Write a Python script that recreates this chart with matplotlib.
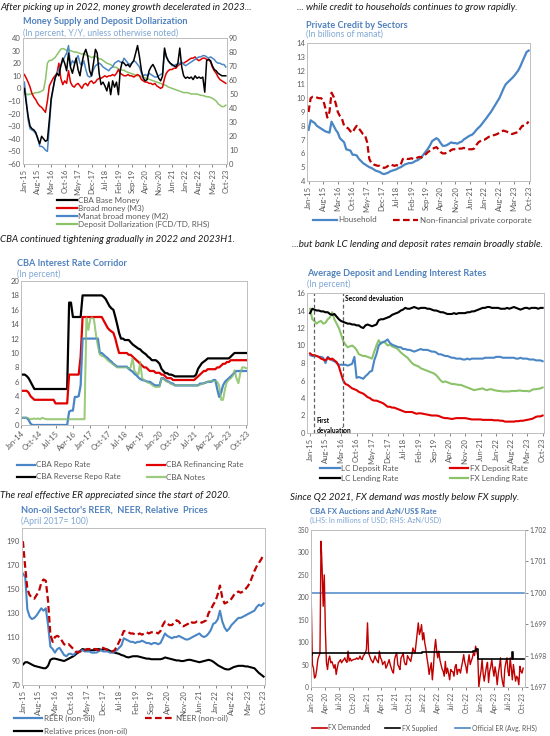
import pandas as pd
import matplotlib
matplotlib.use("Agg")
import matplotlib.pyplot as plt
from matplotlib.lines import Line2D

plt.rcParams['font.family'] = ['Lato', 'DejaVu Sans']

W, H = 550, 736

# ---------------- data ----------------
# panel 1: money supply (Y/Y %), monthly Jan-15 .. Oct-23
m1_base = [0, -12, -22, -30, -32, -33, -35, -40, -44, -38,
           -40, -42, -41, -25, -8, 0, 8, 12, 10, 18,
           24, 20, 14, 28, 17, 12, 18, 24, 15, 10,
           20, 27, 31, 26, 14, 10, 20, 31, 28, 12,
           3, 5, 2, -2, 5, -5, 6, 1, 5, -5,
           14, 21, 20, 18, 19, 17, 20, 22, 28, 34,
           25, 14, 8, 6, 7, 14, 17, 19, 16, 12,
           8, 6, 10, 32, 25, 22, 20, 19, 18, 17,
           20, 32, 17, 10, 8, 9, 8, 9, 7, 10,
           8, 9, 8, 9, -3, 22, 23, 22, 18, 15,
           14, 12, 11, 10, 10, 10]
m1_m3 = [11, 8, 5, 1, -4, -7, -9, -12, -14, -15,
         -17, -19, -10, 2, 5, 8, 10, 12, 20, 8,
         3, 6, 4, 14, 5, 2, 1, 3, 4, 2,
         0, 3, 4, 2, 5, 6, 4, 5, 7, 8,
         8, 9, 10, 9, 10, 10, 11, 10, 12, 15,
         12, 11, 10, 10, 11, 10, 10, 9, 10, 11,
         10, 7, 6, 5, 5, 4, 4, 3, 4, 2,
         1, 0, 1, 8, 12, 14, 15, 15, 16, 16,
         18, 19, 20, 20, 21, 22, 23, 24, 24, 25,
         23, 22, 23, 24, 24, 23, 23, 21, 17, 14,
         12, 9, 7, 6, 5, 4]
m1_m2 = [5, -10, -25, -32, -33, -34, -36, -39, -46, -46,
         -47, -49, -50, -30, -10, 0, 8, 12, 15, 18,
         22, 25, 28, 34, 18, 22, 20, 23, 26, 20,
         18, 22, 15, 10, 9, 10, 15, 18, 19, 20,
         19, 17, 16, 15, 14, 16, 17, 20, 21, 22,
         21, 20, 24, 22, 20, 19, 20, 22, 21, 19,
         17, 12, 10, 11, 10, 12, 11, 10, 9, 9,
         10, 11, 12, 30, 26, 22, 20, 18, 18, 19,
         19, 20, 21, 19, 18, 19, 20, 21, 22, 23,
         24, 25, 25, 26, 26, 25, 24, 25, 24, 23,
         21, 20, 20, 19, 19, 17]
m1_dollar = [50, 50, 49.5, 50, 50, 50.5, 51, 51, 51.5, 52,
             53, 60, 72, 74, 74, 75, 76, 78, 80, 82,
             82.5, 82, 81, 81.5, 81, 80.5, 80, 80, 79.5, 79,
             78.5, 79, 78, 77, 77, 76, 76.5, 77, 76, 75,
             75, 74, 73, 72, 71.5, 71, 70, 69, 69, 68,
             67.5, 67, 67, 66, 65.5, 65, 64.5, 64, 63.5, 63,
             63, 62.5, 62, 61.5, 61, 60.5, 60, 59.5, 59, 58.5,
             58, 57.5, 57, 56.5, 56, 55, 54.5, 54, 53.5, 53,
             52.5, 52, 51.5, 51, 51, 51, 50.5, 50, 50, 50,
             50, 49.5, 49, 49, 48.5, 48, 48, 47.5, 47, 46,
             45, 43, 42, 41, 41, 42]

# panel 2: private credit (bn manat), monthly Jan-15 .. Oct-23
cr_household = [7.7, 8.4, 8.3, 8.2, 8.0, 7.9, 7.8, 7.7, 7.6, 7.55,
                7.5, 8.3, 8.0, 7.7, 7.5, 7.1, 6.95, 6.8, 6.3, 6.25,
                6.2, 5.9, 5.9, 5.85, 5.6, 5.45, 5.3, 5.2, 5.1, 5.0,
                4.95, 4.85, 4.75, 4.7, 4.65, 4.55, 4.5, 4.55, 4.6, 4.7,
                4.75, 4.8, 4.85, 4.95, 5.0, 5.1, 5.2, 5.25, 5.3, 5.3,
                5.35, 5.45, 5.5, 5.6, 5.75, 5.95, 6.15, 6.35, 6.6, 6.9,
                7.0, 7.1, 7.0, 6.75, 6.55, 6.55, 6.6, 6.7, 6.8, 6.75,
                6.75, 6.7, 6.8, 6.85, 7.0, 7.1, 7.2, 7.3, 7.35, 7.5,
                7.7, 7.85, 8.0, 8.2, 8.4, 8.6, 8.8, 9.0, 9.25, 9.5,
                9.75, 10.0, 10.35, 10.7, 11.0, 11.15, 11.3, 11.45, 11.6, 11.8,
                12.0, 12.3, 12.65, 13.0, 13.35, 13.45]
cr_corporate = [9.0, 10.0, 10.1, 10.1, 10.05, 10.0, 10.0, 9.9, 9.3, 8.6,
                9.0, 10.4, 10.1, 9.6, 9.0, 8.7, 8.5, 8.0, 7.9, 7.8,
                7.6, 7.5, 7.8, 8.0, 7.8, 7.6, 7.4, 7.3, 6.8, 5.6,
                5.3, 5.2, 5.15, 5.1, 5.1, 5.0, 4.95, 5.0, 5.1, 5.2,
                5.15, 5.1, 5.15, 5.1, 5.2, 5.6, 5.65, 5.6, 5.6, 5.65,
                5.6, 5.6, 5.7, 5.75, 5.7, 5.85, 5.95, 6.1, 6.2, 6.3,
                6.4, 6.45, 6.3, 6.1, 6.0, 6.0, 6.05, 6.1, 6.25, 6.3,
                6.3, 6.3, 6.35, 6.35, 6.4, 6.35, 6.3, 6.3, 6.3, 6.35,
                6.6, 6.8, 6.9, 7.0, 7.0, 7.1, 7.2, 7.25, 7.3, 7.35,
                7.4, 7.5, 7.6, 7.65, 7.6, 7.55, 7.5, 7.4, 7.45, 7.5,
                7.55, 7.8, 8.0, 8.0, 8.15, 8.3]

# panel 3: CBA corridor (%), monthly Jan-14 .. Oct-23
cba_reverse = [7, 7, 7, 6.8, 6.5, 6, 5.5, 5, 5, 5,
               5, 5, 5, 5, 5, 5, 5, 5, 5, 5,
               5, 5, 5, 5, 5, 17, 17, 15, 15, 15,
               15, 15, 18, 18, 18, 18, 18, 18, 18, 18,
               18, 18, 18, 17.8, 17.5, 17, 16.5, 16.2, 16, 15,
               14, 12.8, 12, 12, 11.8, 11.8, 11.8, 11.5, 11.2, 11,
               10.8, 10.6, 10.5, 10.2, 10, 9.8, 9.5, 9.3, 9, 9,
               9, 8.8, 8.5, 7.8, 7.5, 7.2, 7.2, 7, 7, 6.9,
               6.75, 6.75, 6.75, 6.75, 6.75, 6.75, 6.75, 6.75, 6.75, 6.75,
               6.75, 7.0, 7.8, 8.2, 8.6, 8.8, 9.0, 9.25, 9.25, 9.25,
               9.25, 9.25, 9.25, 9.25, 9.25, 9.25, 9.25, 9.25, 9.25, 9.5,
               9.75, 10, 10, 10, 10, 10, 10, 10]
cba_refi = [4.75, 4.75, 4.75, 4.75, 4.5, 4, 3.75, 3.5, 3.5, 3.5,
            3.5, 3.5, 3.5, 3.5, 3.5, 3.5, 3.5, 3.5, 3, 3,
            3, 3, 3, 3, 3, 7, 7, 7, 7, 7,
            7, 9.5, 15, 15, 15, 15, 15, 15, 15, 15,
            15, 15, 15, 14.5, 14, 13.5, 13.2, 13, 12.8, 12,
            11, 10, 10, 10, 10, 10, 9.75, 9.75, 9.5, 9.25,
            9, 8.75, 8.5, 8.25, 8, 8, 7.75, 7.5, 7.5, 7.5,
            7.25, 7.25, 7.25, 7, 7, 6.75, 6.5, 6.5, 6.5, 6.25,
            6.25, 6.25, 6.25, 6.25, 6.25, 6.25, 6.25, 6.25, 6.25, 6.25,
            6.25, 6.5, 6.75, 7, 7.25, 7.5, 7.5, 7.75, 7.75, 7.75,
            7.75, 7.75, 8, 8, 8.25, 8.5, 8.5, 8.75, 8.75, 9,
            9, 9, 9, 9, 9, 9, 9, 9]
cba_repo = [1, 1, 1, 1, 0.7, 0.2, 0, 0, 0, 0,
            0, 0, 0, 0, 0, 0, 0, 0, 0, 0,
            0, 0, 0, 0, 0, 1.85, 2, 2, 3.9, 3.9,
            4, 5.5, 12, 12, 12, 12, 12, 12, 12, 12,
            12, 10, 10, 9.75, 9.5, 9.3, 9, 8.8, 8.5, 8.3,
            8.1, 8.1, 8.1, 8.1, 8.1, 8.1, 7.8, 7.6, 7.4, 7.1,
            6.9, 6.6, 6.4, 6.25, 6.2, 6.1, 6, 6, 5.8, 5.6,
            5.5, 5.5, 5.5, 6.5, 6.5, 6.25, 6.1, 6, 5.8, 5.75,
            5.5, 5.5, 5.5, 5.5, 5.5, 5.5, 5.5, 5.5, 5.5, 5.5,
            5.5, 5.5, 5.5, 5.75, 5.75, 5.8, 5.9, 6, 6, 6,
            6.25, 6.25, 5, 3.9, 4.5, 5.5, 6, 6.25, 6.5, 6.75,
            7, 7.25, 7.5, 7.5, 7.5, 7.5, 7.5, 7.5]
cba_notes = [1, 1, 1, 1, 0.9, 0.8, 0.85, 0.9, 0.85, 0.9,
             0.8, 1, 0.9, 0.8, 0.8, 0.8, 0.8, 0.8, 0.8, 0.8,
             0.8, 0.8, 0.8, 0.8, 0.8, 0.8, 0.8, 0.8, 0.8, 0.8,
             0.8, 0.8, 0.8, 0.8, 15, 13.2, 14.8, 15, 14.6, 12.5,
             11, 9.8, 9.6, 9.5, 9.3, 9, 8.8, 8.6, 8.4, 8.2,
             8, 8, 8, 8, 8, 8, 7.8, 8, 9.3, 7.5,
             7.2, 7, 8.8, 6.5, 6.2, 6.1, 5.9, 5.8, 5.6, 5.4,
             5.3, 5.3, 5.3, 6.5, 6.4, 6.2, 6, 5.9, 5.7, 5.6,
             5.5, 5.5, 5.5, 5.5, 5.5, 5.5, 5.5, 5.5, 5.5, 5.5,
             5.5, 5.5, 5.5, 5.6, 5.7, 5.8, 5.9, 6, 6.1, 6.1,
             6.1, 6.1, 6, 5.5, 3.5, 3.5, 5, 6, 6.3, 6.5,
             6.8, 7.6, 6.5, 5.8, 7.2, 8, 8, 7.9]

# panel 4: average deposit / lending rates (%), monthly Jan-15 .. Oct-23
lc_lending = [13.7, 14.2, 14.1, 14.0, 14.0, 13.9, 13.9, 13.8, 13.8, 13.6,
              13.5, 13.6, 13.3, 13.0, 12.8, 12.7, 12.6, 12.5, 12.5, 12.4,
              12.4, 12.3, 12.3, 12.1, 12.0, 12.3, 12.4, 12.3, 12.2, 12.3,
              12.4, 12.9, 13.0, 13.0, 13.1, 13.2, 13.3, 13.5, 13.6, 13.7,
              13.8, 14.0, 14.1, 14.3, 14.2, 14.2, 14.3, 14.4, 14.3, 14.2,
              14.3, 14.3, 14.3, 14.2, 14.2, 14.1, 14.0, 14.0, 13.9, 13.8,
              13.8, 13.7, 13.6, 13.6, 13.6, 13.7, 13.6, 13.7, 13.7, 13.7,
              13.7, 13.8, 13.8, 13.9, 13.9, 14.0, 14.1, 14.2, 14.3, 14.3,
              14.4, 14.4, 14.3, 14.3, 14.3, 14.3, 14.2, 14.2, 14.2, 14.3,
              14.2, 14.3, 14.4, 14.3, 14.2, 14.1, 14.2, 14.3, 14.3, 14.2,
              14.3, 14.3, 14.3, 14.2, 14.3, 14.3]
lc_deposit = [8.9, 8.8, 8.8, 8.8, 8.7, 8.7, 8.6, 8.0, 8.7, 8.5,
              8.3, 8.2, 8.0, 7.8, 7.8, 7.8, 7.8, 7.7, 7.8, 7.9,
              8.7, 6.3, 6.4, 6.3, 6.2, 6.5, 6.7, 7.0, 7.1, 8.3,
              9.0, 10.0, 10.3, 10.4, 10.5, 10.7, 10.3, 10.1, 10.0, 9.9,
              9.8, 9.8, 9.6, 9.6, 9.5, 9.5, 9.4, 9.3, 9.4, 9.5,
              9.6, 9.5, 9.5, 9.5, 9.4, 9.3, 9.3, 9.2, 9.0, 9.0,
              8.9, 8.8, 8.8, 8.7, 8.6, 8.6, 8.5, 8.5, 8.5, 8.4,
              8.4, 8.5, 8.4, 8.5, 8.5, 8.5, 8.5, 8.5, 8.5, 8.6,
              8.6, 8.6, 8.6, 8.6, 8.7, 8.7, 8.7, 8.6, 8.6, 8.6,
              8.6, 8.6, 8.6, 8.5, 8.5, 8.6, 8.5, 8.5, 8.5, 8.4,
              8.4, 8.4, 8.3, 8.3, 8.3, 8.2]
fx_deposit = [9.1, 8.9, 8.9, 8.8, 8.7, 8.5, 8.4, 8.3, 8.6, 8.4,
              8.5, 8.3, 8.1, 7.6, 6.8, 6.0, 5.6, 5.5, 5.3, 5.1,
              5.0, 4.9, 4.7, 4.6, 4.5, 4.3, 4.1, 4.0, 3.8, 3.7,
              3.7, 3.6, 3.5, 3.4, 3.2, 3.0, 3.0, 2.9, 2.9, 2.8,
              2.7, 2.6, 2.5, 2.4, 2.4, 2.4, 2.4, 2.3, 2.2, 2.25,
              2.25, 2.2, 2.15, 2.1, 2.05, 2.0, 2.0, 2.0, 1.95, 1.85,
              1.75, 1.7, 1.7, 1.65, 1.6, 1.65, 1.7, 1.7, 1.7, 1.7,
              1.7, 1.65, 1.6, 1.55, 1.55, 1.55, 1.55, 1.55, 1.5, 1.5,
              1.5, 1.5, 1.5, 1.45, 1.45, 1.45, 1.4, 1.4, 1.3, 1.3,
              1.3, 1.3, 1.3, 1.35, 1.35, 1.4, 1.4, 1.45, 1.5, 1.55,
              1.6, 1.7, 1.85, 1.9, 1.9, 2.0]
fx_lending = [14.2, 13.0, 12.8, 12.5, 12.7, 12.8, 12.5, 12.6, 13.0, 13.2,
              13.8, 13.0, 12.5, 12.0, 11.3, 10.5, 10.1, 9.8, 9.9, 10.0,
              9.8, 9.5, 9.0, 8.9, 8.8, 8.8, 8.7, 8.6, 8.5, 9.3,
              10.0, 10.6, 10.2, 10.4, 10.3, 10.0, 10.1, 9.9, 9.8, 9.7,
              9.5, 9.2, 9.0, 8.8, 8.6, 8.3, 8.0, 7.8, 7.7, 7.6,
              7.4, 7.3, 7.2, 7.1, 7.0, 6.9, 6.8, 6.6, 6.3, 6.0,
              5.8, 5.9, 5.8, 5.7, 5.6, 5.6, 5.55, 5.5, 5.5, 5.4,
              5.3, 5.2, 5.1, 5.0, 4.9, 4.95, 5.0, 5.05, 5.1, 4.95,
              4.9, 5.0, 5.0, 4.9, 4.85, 4.8, 4.8, 4.75, 4.75, 4.75,
              4.75, 4.8, 4.8, 4.8, 4.85, 4.85, 4.8, 4.8, 4.8, 4.75,
              4.9, 5.0, 5.0, 5.05, 5.1, 5.2]
devaluations = ["2015-03-01", "2016-04-01"]

# panel 5: non-oil REER / NEER / relative prices (Apr-2017 = 100), monthly Jan-15 .. Oct-23
reer = [163, 160, 133, 127, 125, 126, 128, 131, 134, 132,
        134, 120, 102, 100, 97, 100, 101, 98, 95, 94,
        96, 96, 95, 97, 98, 98, 99, 98, 98, 98,
        97, 97, 97, 98, 99, 98, 98, 98, 97, 97,
        98, 99, 101, 103, 109, 108, 107, 106, 106, 105,
        106, 106, 107, 106, 105, 105, 104, 105, 105, 104,
        105, 109, 113, 111, 110, 109, 110, 110, 111, 110,
        109, 108, 108, 109, 110, 111, 112, 113, 111, 110,
        111, 113, 116, 121, 122, 125, 132, 123, 118, 115,
        117, 120, 122, 124, 126, 126, 127, 128, 129, 130,
        131, 132, 135, 137, 136, 138]
neer = [190, 168, 150, 145, 143, 142, 145, 148, 155, 158,
        157, 140, 112, 106, 110, 111, 110, 107, 104, 103,
        104, 102, 100, 98, 97, 98, 99, 99, 100, 100,
        99, 100, 100, 99, 101, 101, 100, 99, 98, 98,
        99, 102, 106, 110, 115, 115, 114, 113, 113, 112,
        112, 113, 112, 113, 114, 113, 114, 114, 114, 113,
        115, 120, 123, 121, 120, 120, 122, 124, 123, 120,
        119, 120, 121, 123, 122, 122, 123, 123, 122, 123,
        124, 130, 133, 137, 140, 146, 153, 143, 138, 139,
        140, 142, 145, 147, 148, 147, 148, 150, 152, 155,
        160, 165, 169, 172, 175, 179]
rel_prices = [87, 89, 89, 88, 87, 86, 85.5, 85, 84.5, 84,
              84, 86, 91, 92, 92, 91.5, 91, 90.5, 90, 91,
              92, 93, 94, 95.5, 97, 98.5, 100, 99.5, 99, 98.5,
              99, 99, 99.5, 100, 99.5, 99.5, 100, 99.5, 98.5, 97.5,
              97, 96.5, 96, 95, 94.5, 93.5, 93, 93.5, 94, 94,
              94, 93.5, 93, 92.5, 92, 92, 91.5, 91.5, 91.5, 91.5,
              91.5, 92, 93, 92.5, 92, 91.5, 91, 90.5, 90.5, 90,
              90, 90.5, 91, 91, 90.5, 90, 89.5, 89, 89.5, 90,
              90.5, 91, 90.5, 89.5, 88, 86.5, 85.5, 84.5, 83.5, 83,
              83, 84, 85, 85.5, 86, 86, 86, 85.5, 85.5, 85,
              84.5, 84, 82, 80, 78.5, 77]

# panel 6: CBA FX auctions (mn USD), weekly from Jan-20
fx_demand = [185, 50, 42, 20, 24, 39, 61, 69, 75, 325,
             265, 180, 250, 128, 54, 39, 61, 69, 54, 57,
             50, 42, 50, 28, 42, 54, 57, 61, 54, 58,
             61, 65, 58, 55, 80, 58, 64, 58, 60, 61,
             62, 62, 65, 62, 63, 69, 63, 61, 69, 72,
             76, 84, 143, 76, 69, 62, 58, 54, 61, 69,
             62, 58, 54, 80, 65, 61, 50, 54, 57, 42,
             47, 54, 61, 50, 42, 35, 31, 61, 70, 76,
             50, 45, 39, 65, 69, 76, 57, 50, 50, 70,
             65, 61, 57, 70, 87, 80, 76, 98, 120, 143,
             117, 125, 139, 105, 121, 98, 85, 65, 50, 28,
             42, 54, 16, 45, 84, 106, 80, 65, 80, 60,
             50, 40, 35, 24, 57, 30, 42, 30, 16, 39,
             35, 34, 24, 45, 50, 28, 39, 39, 31, 45,
             57, 72, 55, 46, 31, 55, 72, 50, 58, 65,
             76, 70, 91, 80, 70, 0, 20, 35, 61, 30,
             13, 30, 45, 55, 10, 35, 45, 61, 40, 24,
             45, 30, 5, 30, 45, 65, 25, 10, 0, 40,
             55, 65, 35, 25, 65, 42, 16, 50, 30, 13,
             24, 20, 5, 46, 35, 31, 42]
supply_dates = ["2020-01-03", "2020-01-10", "2021-12-17", "2022-11-18",
                "2022-12-02", "2022-12-16", "2023-07-28", "2023-08-04", "2023-10-13"]
fx_supply = [72, 75, 78, 80, 85, 63, 78, 63, 63]
er_dates = ["2020-01-03", "2023-10-13"]
official_er = [1.700, 1.700]

# ---------------- style ----------------
BLACK = '#000000'
RED = '#E00000'
DRED = '#C00000'
BLUE = '#4A86C5'
GREEN = '#8CC36A'
LGREEN = '#9BCB7C'
TITLE_C = '#4F81BD'
SUB_C = '#7FA6D3'
TICK_C = '#595959'
FRAME_C = '#BFBFBF'


def box(x0, y0, x1, y1):
    # pixel box (from top-left) -> figure fractions
    return [x0 / W, 1 - y1 / H, (x1 - x0) / W, (y1 - y0) / H]


def ftext(x, y, s, **kw):
    fig.text(x / W, 1 - y / H, s, va='center', ha='left', **kw)


def key(x0, x1, y, label, color, ls='-', lw=1.6, size=5.8):
    fig.add_artist(Line2D([x0 / W, x1 / W], [1 - y / H, 1 - y / H], color=color,
                          ls=ls, lw=lw, transform=fig.transFigure))
    ftext(x1 + 1.5, y, label, fontsize=size, color=TICK_C)


def style(ax, ticks, fmt='%b-%y', rot=90, size=5.5):
    for sp in ax.spines.values():
        sp.set_color(FRAME_C)
        sp.set_linewidth(0.7)
    ax.set_xticks(ticks)
    if rot == 90:
        ax.set_xticklabels([t.strftime(fmt) for t in ticks], rotation=90)
    else:
        ax.set_xticklabels([t.strftime(fmt) for t in ticks], rotation=rot,
                           ha='right', rotation_mode='anchor')
    ax.tick_params(axis='both', labelsize=size, colors=TICK_C, length=2, width=0.5, pad=1.5)


fig = plt.figure(figsize=(W / 100, H / 100), dpi=100)

months15 = pd.date_range("2015-01-01", periods=106, freq="MS")
months14 = pd.date_range("2014-01-01", periods=118, freq="MS")
ticks15 = pd.date_range("2015-01-01", "2023-10-01", freq="7MS")
ticks14 = pd.date_range("2014-01-01", "2023-10-01", freq="9MS")
ticks20 = pd.date_range("2020-01-01", "2023-10-01", freq="3MS")
xl15 = (pd.Timestamp("2014-12-10"), pd.Timestamp("2023-10-20"))

HEAD = dict(fontsize=7.0, style='italic', color='#1a1a1a')
TITLE = dict(fontsize=6.6, weight='bold', color=TITLE_C)
SUB = dict(fontsize=6.2, color=SUB_C)

# ---- panel 1 ----
ftext(0, 8, "After picking up in 2022, money growth decelerated in 2023...", **HEAD)
ftext(23, 22, "Money Supply and Deposit Dollarization", **TITLE)
ftext(23, 33, "(In percent, Y/Y, unless otherwise noted)", **SUB)
ax1 = fig.add_axes(box(23, 38, 227, 164))
ax1r = ax1.twinx()
ax1r.plot(months15, m1_dollar, color=GREEN, lw=1.1)
ax1.plot(months15, m1_m3, color=RED, lw=1.1)
ax1.plot(months15, m1_m2, color=BLUE, lw=1.1)
ax1.plot(months15, m1_base, color=BLACK, lw=1.1)
ax1.set_zorder(ax1r.get_zorder() + 1)
ax1.patch.set_visible(False)
ax1.set_ylim(-60, 40)
ax1.set_yticks(range(-60, 41, 10))
ax1r.set_ylim(0, 90)
ax1r.set_yticks(range(0, 91, 10))
ax1.set_xlim(*xl15)
style(ax1, ticks15)
style(ax1r, ticks15)
ax1r.tick_params(axis='y', length=0)
ax1.tick_params(axis='y', length=0)
key(57, 77, 200, "CBA Base Money", BLACK)
key(57, 77, 208, "Broad money (M3)", RED)
key(57, 77, 216, "Manat broad money (M2)", BLUE)
key(57, 77, 224, "Deposit Dollarization (FCD/TD, RHS)", GREEN)

# ---- panel 2 ----
ftext(297, 8, "... while credit to households continues to grow rapidly.", **HEAD)
ftext(306, 25, "Private Credit by Sectors", **TITLE)
ftext(306, 34, "(In billions of manat)", **SUB)
ax2 = fig.add_axes(box(307, 43, 530, 181))
ax2.plot(months15, cr_household, color=BLUE, lw=1.6)
ax2.plot(months15, cr_corporate, color=DRED, lw=1.6, ls=(0, (3, 1.5)))
ax2.set_ylim(4, 14)
ax2.set_yticks(range(4, 15))
ax2.set_xlim(*xl15)
style(ax2, ticks15)
ax2.tick_params(axis='y', length=0)
key(313, 337, 220, "Household", BLUE)
key(393, 418, 220, "Non-financial private corporate", DRED, ls=(0, (3, 1.5)))

# ---- panel 3 ----
ftext(0, 240, "CBA continued tightening gradually in 2022 and 2023H1.", **HEAD)
ftext(17, 263, "CBA Interest Rate Corridor", **TITLE)
ftext(17, 274, "(In percent)", **SUB)
ax3 = fig.add_axes(box(21, 281, 247, 425))
ax3.plot(months14, cba_notes, color=LGREEN, lw=1.4)
ax3.plot(months14, cba_reverse, color=BLACK, lw=1.6)
ax3.plot(months14, cba_refi, color=RED, lw=1.6)
ax3.plot(months14, cba_repo, color=BLUE, lw=1.6)
ax3.plot(months14, cba_notes, color=LGREEN, lw=1.0, alpha=0.6)
ax3.set_ylim(0, 20)
ax3.set_yticks(range(0, 21, 2))
ax3.set_xlim(pd.Timestamp("2014-01-01"), pd.Timestamp("2023-10-15"))
style(ax3, ticks14, rot=45)
ax3.tick_params(axis='y', length=0)
key(17, 35, 465, "CBA Repo Rate", BLUE)
key(147, 165, 465, "CBA Refinancing Rate", RED)
key(17, 35, 477, "CBA Reverse Repo Rate", BLACK)
key(147, 165, 477, "CBA Notes", LGREEN)

# ---- panel 4 ----
ftext(292, 245, "...but bank LC lending and deposit rates remain broadly stable.", **HEAD)
ftext(307, 274, "Average Deposit and Lending Interest Rates", **TITLE)
ftext(307, 284, "(In percent)", **SUB)
ax4 = fig.add_axes(box(307, 293, 544, 433))
ax4.plot(months15, fx_lending, color=GREEN, lw=1.5)
ax4.plot(months15, lc_deposit, color=BLUE, lw=1.5)
ax4.plot(months15, fx_deposit, color=RED, lw=1.5)
ax4.plot(months15, lc_lending, color=BLACK, lw=1.5)
for d in devaluations:
    ax4.axvline(pd.Timestamp(d), color='#606060', lw=0.9, ls=(0, (3, 2)))
ax4.text(pd.Timestamp("2016-05-01"), 15.4, "Second devaluation", fontsize=4.8,
         weight='bold', va='center')
ax4.text(pd.Timestamp("2015-04-01"), 0.9, "First\ndevaluation", fontsize=4.8,
         weight='bold', va='center', linespacing=1.5)
ax4.set_ylim(0, 16)
ax4.set_yticks(range(0, 17, 2))
ax4.set_xlim(pd.Timestamp("2014-11-20"), pd.Timestamp("2023-10-20"))
style(ax4, ticks15)
ax4.tick_params(axis='y', length=0)
key(320, 340, 468, "LC Deposit Rate", BLUE)
key(450, 468, 468, "FX Deposit Rate", RED)
key(320, 340, 478, "LC Lending Rate", BLACK)
key(450, 468, 478, "FX Lending Rate", GREEN)

# ---- panel 5 ----
ftext(0, 496, "The real effective ER appreciated since the start of 2020.", **HEAD)
ftext(21, 510, "Non-oil Sector's REER,  NEER, Relative  Prices", **TITLE)
ftext(21, 521, "(April 2017= 100)", **SUB)
ax5 = fig.add_axes(box(22, 528, 265, 685))
ax5.plot(months15, rel_prices, color=BLACK, lw=1.5)
ax5.plot(months15, reer, color=BLUE, lw=1.5)
ax5.plot(months15, neer, color=DRED, lw=1.6, ls=(0, (3, 1.5)))
ax5.set_ylim(70, 201)
ax5.set_yticks(range(70, 191, 20))
ax5.set_xlim(pd.Timestamp("2014-12-20"), pd.Timestamp("2023-10-20"))
style(ax5, ticks15)
ax5.tick_params(axis='y', length=0)
key(14, 42, 718, "REER (non-oil)", BLUE)
key(145, 175, 718, "NEER (non-oil)", DRED, ls=(0, (3, 1.5)))
key(14, 42, 731, "Relative prices (non-oil)", BLACK)

# ---- panel 6 ----
ftext(290, 497, "Since Q2 2021, FX demand was mostly below FX supply.", **HEAD)
ftext(310, 511, "CBA FX Auctions and AzN/US$ Rate", fontsize=5.6, weight='bold', color=TITLE_C)
ftext(310, 520, "(LHS: In millions of USD; RHS: AzN/USD)", fontsize=5.2, color=SUB_C)
ax6 = fig.add_axes(box(311, 530, 525, 687))
ax6r = ax6.twinx()
weeks = pd.date_range("2020-01-03", periods=len(fx_demand), freq="7D")
ax6r.plot(pd.to_datetime(er_dates), official_er, color=BLUE, lw=1.1)
ax6.plot(weeks, fx_demand, color=DRED, lw=1.0)
ax6.plot(pd.to_datetime(supply_dates), fx_supply, color=BLACK, lw=1.2, drawstyle='steps-post')
ax6.set_zorder(ax6r.get_zorder() + 1)
ax6.patch.set_visible(False)
ax6.set_ylim(0, 350)
ax6.set_yticks(range(0, 351, 50))
ax6r.set_ylim(1.697, 1.702)
ax6r.set_yticks([1.697, 1.698, 1.699, 1.700, 1.701, 1.702])
ax6r.set_yticklabels(["1.697", "1.698", "1.699", "1.700", "1.701", "1.702"])
ax6.set_xlim(pd.Timestamp("2020-01-01"), pd.Timestamp("2023-10-18"))
style(ax6, ticks20, size=4.8)
style(ax6r, ticks20, size=4.8)
ax6.tick_params(axis='y', length=0)
ax6r.tick_params(axis='y', length=2)
key(312, 327, 728, "FX Demanded", DRED, lw=1.2, size=4.9)
key(385, 400, 728, "FX Supplied", BLACK, lw=1.2, size=4.9)
key(455, 470, 728, "Official ER (Avg. RHS)", BLUE, lw=1.2, size=4.9)

fig.savefig("out.png", dpi=100)
